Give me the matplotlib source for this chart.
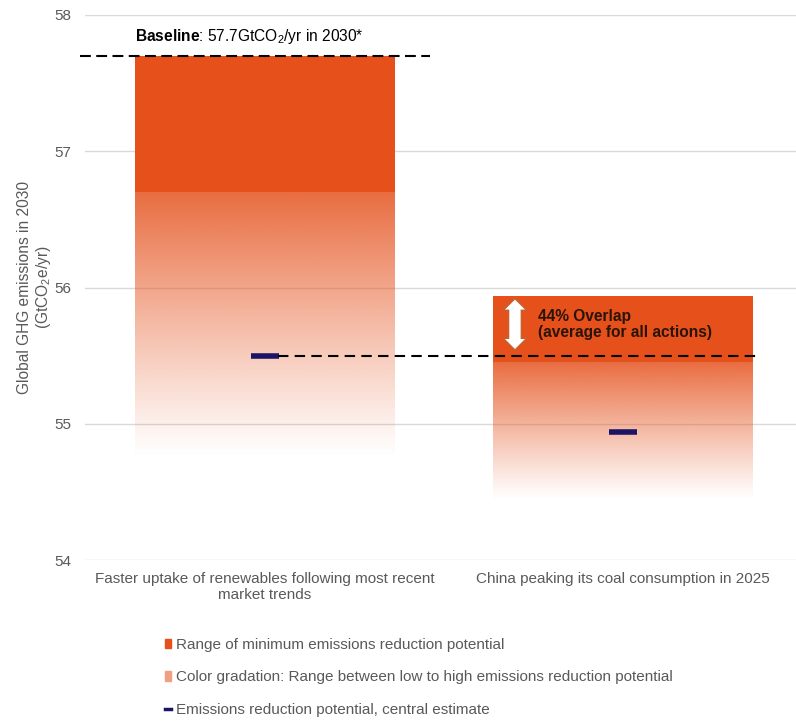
import numpy as np
import matplotlib.pyplot as plt
from matplotlib.patches import Patch, Polygon
from matplotlib.lines import Line2D

plt.rcParams['font.family'] = ['Liberation Sans', 'DejaVu Sans']
plt.rcParams['mathtext.fontset'] = 'custom'
plt.rcParams['mathtext.rm'] = 'Liberation Sans'
plt.rcParams['mathtext.bf'] = 'Liberation Sans:bold'

categories = ["Faster uptake of renewables following most recent\nmarket trends",
              "China peaking its coal consumption in 2025"]
top_vals = [57.7, 55.94]        # baseline / upper end of range
solid_low = [56.7, 55.45]       # lower end of the minimum reduction range
grad_low = [54.75, 54.44]       # lower end of the colour gradation
central = [55.5, 54.94]         # central estimate
baseline = 57.7

orange = "#E5501B"
navy = "#1C1464"
grey = "#595959"

fig = plt.figure(figsize=(7.96, 7.22), dpi=100)
ax = fig.add_axes([85 / 796, 1 - 560 / 722, 711 / 796, 545 / 722])

width = 0.726
xs = np.arange(len(categories))

rgb = np.array([229, 80, 27]) / 255
for x, t, s, g, c in zip(xs, top_vals, solid_low, grad_low, central):
    # colour gradation, fading to white
    n = 256
    img = np.zeros((n, 1, 4))
    img[..., :3] = rgb
    img[:, 0, 3] = np.linspace(0.85, 0.0, n) ** 1.1
    ax.imshow(img, extent=[x - width / 2, x + width / 2, g, s], aspect='auto',
              interpolation='bilinear', zorder=2)
    ax.bar(x, t - s, bottom=s, width=width, color=orange, zorder=3)
    ax.hlines(c, x - 0.039, x + 0.039, color=navy, lw=4, zorder=5)

ax.set_aspect('auto')
ax.set_xlim(-0.503, 1.483)
ax.set_ylim(54, 58)

# baseline and overlap dashed lines
ax.plot([-0.517, 0.461], [baseline, baseline], ls=(0, (5.2, 2.6)), color='black', lw=1.5,
        clip_on=False, zorder=6)
ax.plot([0.036, 1.377], [central[0], central[0]], ls=(0, (5, 3)), color='black', lw=1.5,
        zorder=6)

ax.text(-0.363, 57.84, r"$\bf{Baseline}$: 57.7GtCO$_2$/yr in 2030*",
        fontsize=11.2, color='black', va='center', zorder=7)

# overlap double arrow
ax_x, y0, y1 = 0.698, 55.54, 55.92
hs, hh, hl = 6.5 / 358, 12 / 358, 12 / 136.3
arrow = Polygon([(ax_x, y1), (ax_x + hh, y1 - hl), (ax_x + hs, y1 - hl),
                 (ax_x + hs, y0 + hl), (ax_x + hh, y0 + hl), (ax_x, y0),
                 (ax_x - hh, y0 + hl), (ax_x - hs, y0 + hl), (ax_x - hs, y1 - hl),
                 (ax_x - hh, y1 - hl)], closed=True, fc='white', ec='#C8602E', lw=1.2,
                zorder=8)
ax.add_patch(arrow)
ax.text(0.763, 55.73, "44% Overlap\n(average for all actions)", fontsize=11.2,
        fontweight='bold', color='#2A1408', va='center', linespacing=1.05, zorder=8)

ax.set_yticks([54, 55, 56, 57, 58])
ax.grid(axis='y', color='#D9D9D9', lw=1, zorder=0)
ax.set_axisbelow(True)
for sp in ax.spines.values():
    sp.set_visible(False)
ax.tick_params(length=0, labelsize=11, colors=grey)
ax.tick_params(axis='y', pad=10)
ax.tick_params(axis='x', pad=9, labelsize=11)
ax.set_xticks(xs)
ax.set_xticklabels(categories, color=grey, linespacing=1.1)

ax.set_ylabel("Global GHG emissions in 2030\n(GtCO$_2$e/yr)", fontsize=11.2, color=grey,
              linespacing=1.15)
ax.yaxis.set_label_coords(-0.045, 0.5)

handles = [Patch(color=orange),
           Patch(color='#F0A080'),
           Line2D([], [], color=navy, lw=2.5)]
labels = ["Range of minimum emissions reduction potential",
          "Color gradation: Range between low to high emissions reduction potential",
          "Emissions reduction potential, central estimate"]
fig.legend(handles, labels, loc='upper left', bbox_to_anchor=(165 / 796, 1 - 638 / 722),
           frameon=False, fontsize=11, handlelength=0.4, handleheight=0.6,
           handletextpad=0.3, labelspacing=1.2, borderpad=0, borderaxespad=0,
           labelcolor=grey)

fig.savefig("out.png", dpi=100)
